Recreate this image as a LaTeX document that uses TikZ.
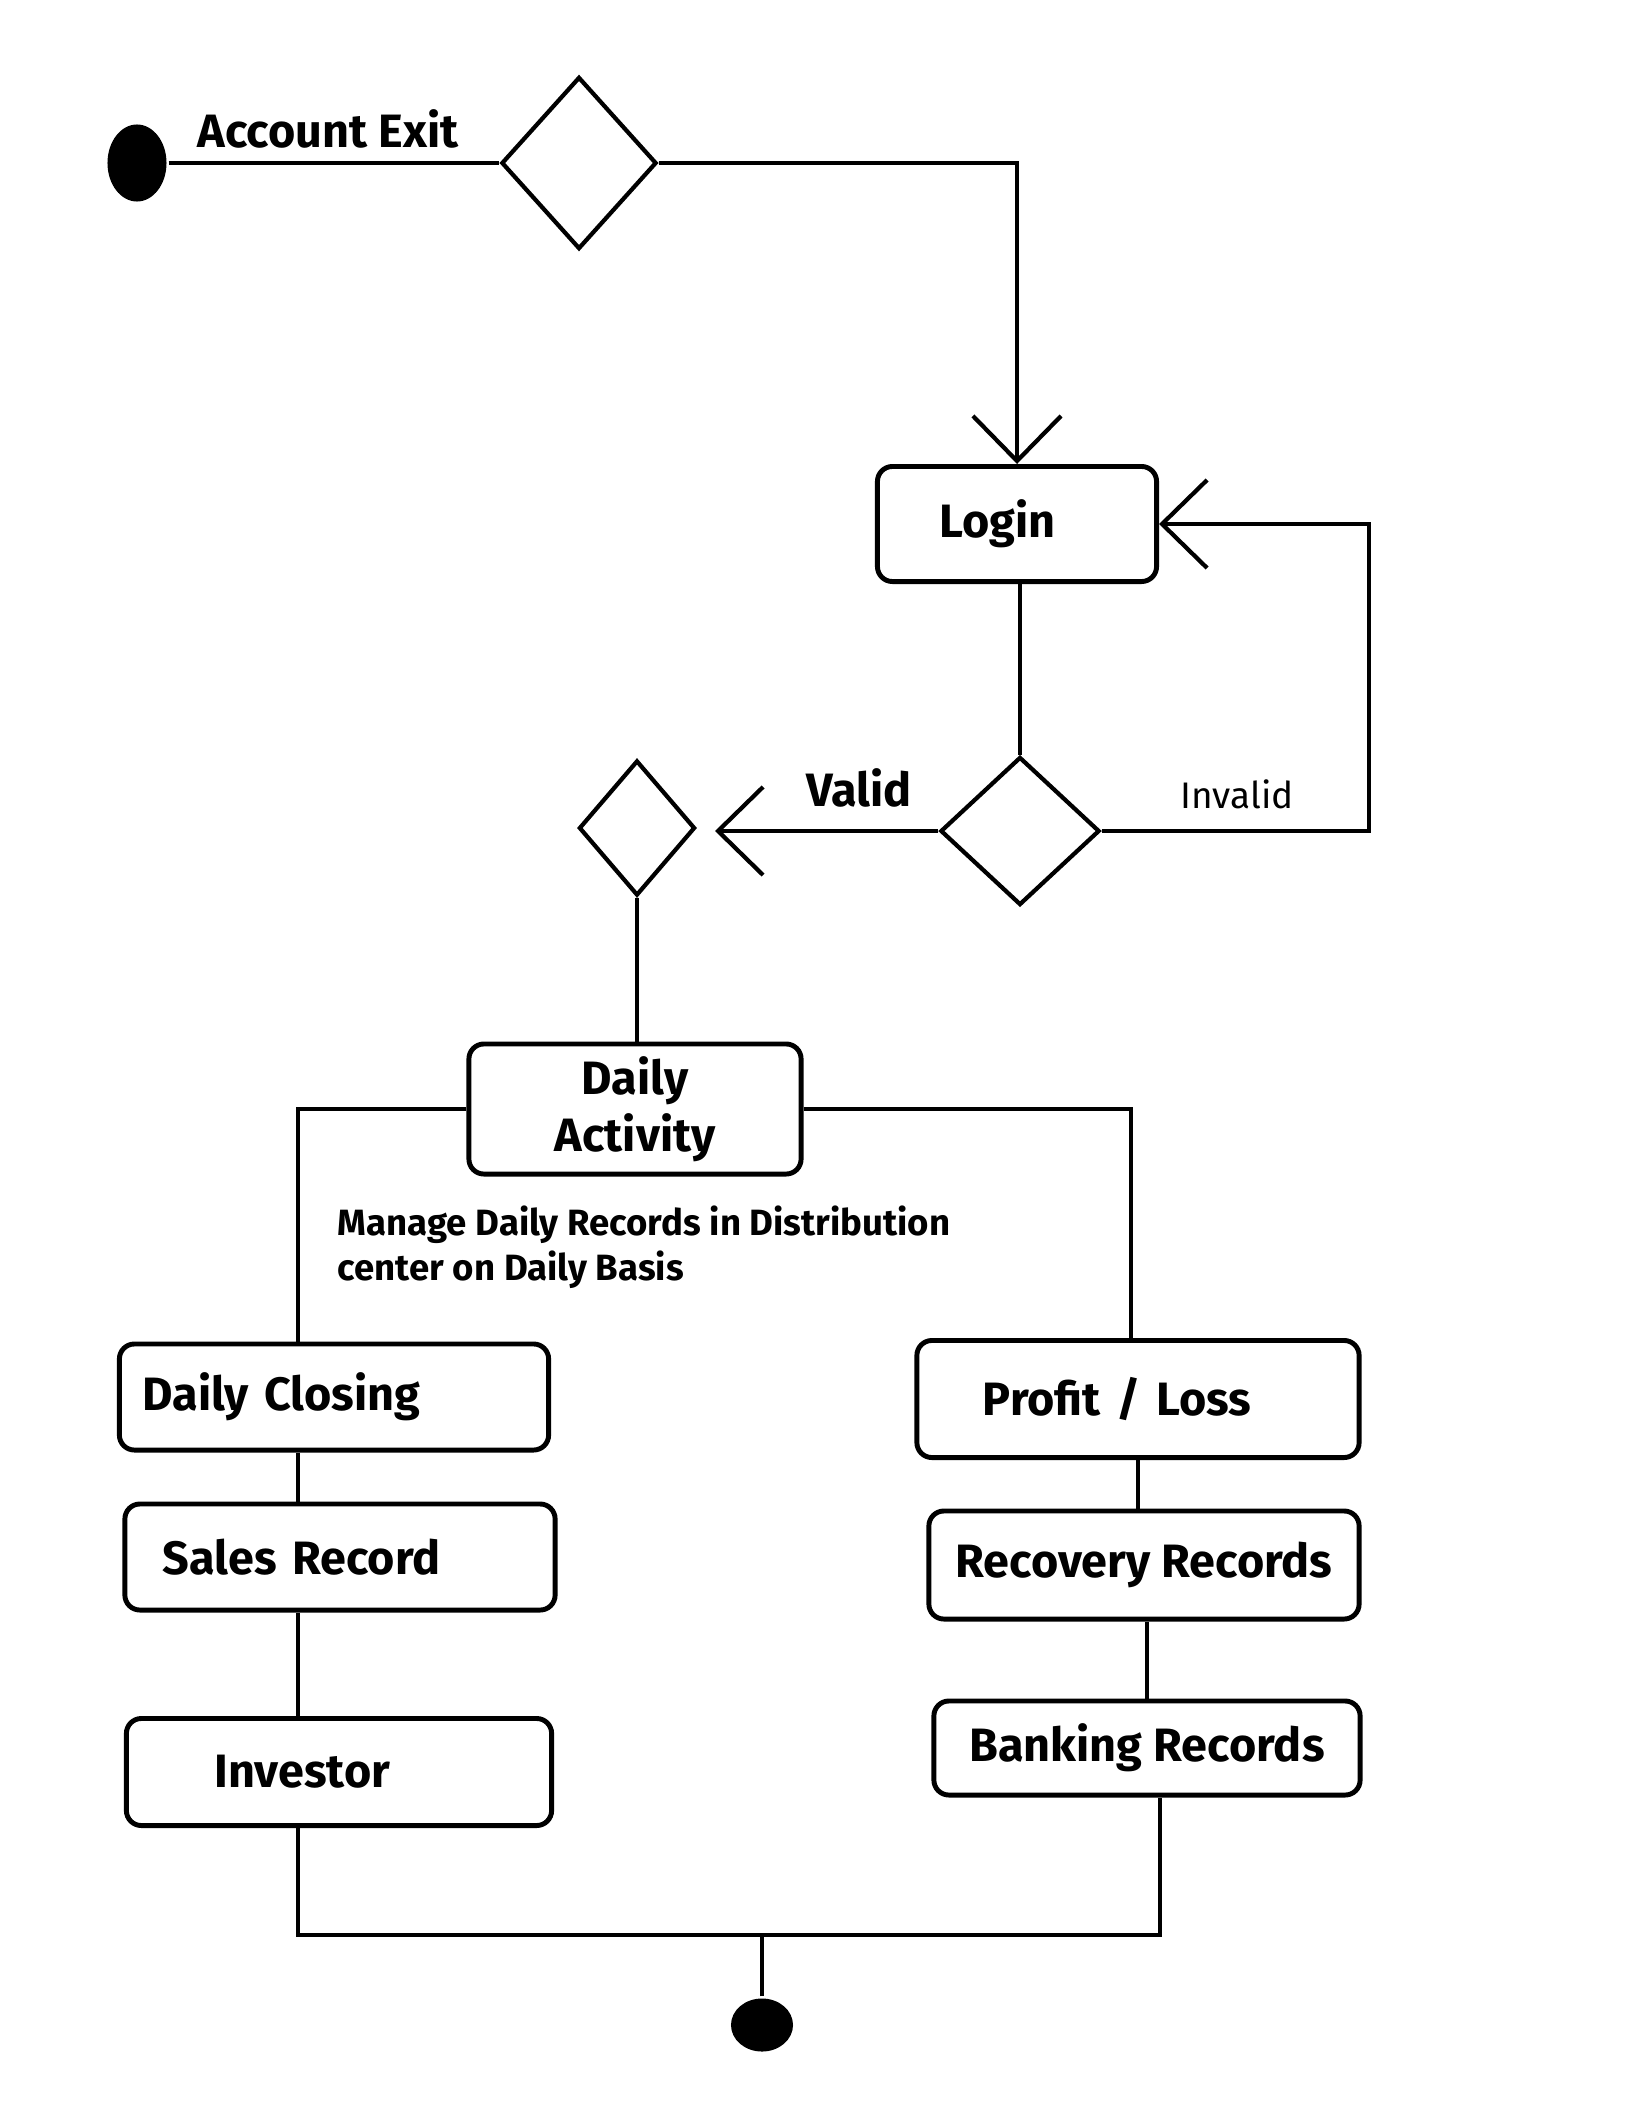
\documentclass[tikz,border=0pt]{standalone}
\usepackage{fontspec}
\setmainfont{Fira Sans}
\usetikzlibrary{shapes.geometric,arrows.meta}

\newcommand{\boxfont}{\fontsize{13.3}{16.2}\selectfont\bfseries}
\newcommand{\notefont}{\fontsize{10.4}{12.8}\selectfont\bfseries}
\newcommand{\smallfont}{\fontsize{10.5}{12}\selectfont}

\tikzset{
  act/.style={draw, rounded corners=0.15cm, line width=1.4pt, font=\boxfont, inner ysep=0pt},
  dec/.style={draw, diamond, inner sep=0pt, line width=1.2pt},
  dot/.style={ellipse, fill=black, inner sep=0pt},
  arr/.style={-{Straight Barb[length=0.45cm, width=0.88cm]}}
}

\begin{document}
\begin{tikzpicture}[x=0.01cm, y=-0.01cm, line width=1.2pt]
\useasboundingbox (0,0) rectangle (1632,2112);

% top: start, exit decision, login
\node[dot, minimum width=0.59cm, minimum height=0.77cm] (Start) at (137,163) {};
\node[dec, minimum width=1.55cm, minimum height=1.72cm] (D1) at (579,163) {};
\node[font=\boxfont] (AccExit) at (328,129) {Account Exit};
\node[act, align=left, text width=1.55cm, inner xsep=0.62cm, minimum height=1.15cm] (Login) at (1017,524) {Login};
\node[dec, minimum width=1.59cm, minimum height=1.48cm] (D2) at (1020,831) {};
\node[dec, minimum width=1.16cm, minimum height=1.35cm] (D3) at (637,828) {};
\node[font=\boxfont] (Valid) at (859,788) {Valid};
\node[font=\smallfont] (Invalid) at (1237,794) {Invalid};
\coordinate (ValTip) at (715,831);
\coordinate (InvC) at (1369,524);

\draw (Start) -- (D1);
\draw[arr] (D1.east) -| (Login.north);
\draw (Login.south -| D2.north) -- (D2.north);
\draw[arr] (D2.east) -| (InvC) -- (Login.east);
\draw[arr] (D2.west) -- (ValTip);

% daily activity and its two branches
\node[act, align=center, minimum width=3.32cm, minimum height=1.30cm] (DA) at (635,1109) {Daily\\Activity};
\node[font=\notefont, align=left, anchor=west] (Note) at (324,1247) {Manage Daily Records in Distribution\\center on Daily Basis};

\node[act, align=left, text width=3.83cm, inner xsep=0.23cm, minimum height=1.06cm] (DC) at (334,1397) {Daily Closing};
\node[act, align=left, text width=3.54cm, inner xsep=0.38cm, minimum height=1.06cm] (SR) at (340,1557) {Sales Record};
\node[act, align=left, text width=2.49cm, inner xsep=0.88cm, minimum height=1.07cm] (Inv) at (339,1772) {Investor};

\node[act, align=left, text width=3.10cm, inner xsep=0.66cm, minimum height=1.17cm] (PL) at (1138,1399) {Profit / Loss};
\node[act, align=center, minimum width=4.30cm, minimum height=1.08cm] (RR) at (1144,1565) {Recovery Records};
\node[act, align=center, minimum width=4.26cm, minimum height=0.94cm] (BR) at (1147,1748) {Banking Records};

\node[dot, minimum width=0.62cm, minimum height=0.53cm] (End) at (762,2025) {};
\coordinate (JoinL) at (298,1935);
\coordinate (JoinR) at (1160,1935);

\draw (D3.south) -- (D3.south |- DA.north);
\draw (DA.west) -| (DC.north -| JoinL);
\draw (DA.east) -| ([xshift=-0.07cm]PL.north);
\draw (DC.south -| JoinL) -- (SR.north -| JoinL);
\draw (SR.south -| JoinL) -- (Inv.north -| JoinL);
\draw (PL.south) -- (PL.south |- RR.north);
\draw (RR.south -| BR.north) -- (BR.north);
%\draw (Inv.south) -- (JoinL);
\draw (Inv.south -| JoinL) -- (JoinL) -- (JoinR) -- (BR.south -| JoinR);
\draw (End.north) -- (End.north |- JoinL);
\end{tikzpicture}
\end{document}
